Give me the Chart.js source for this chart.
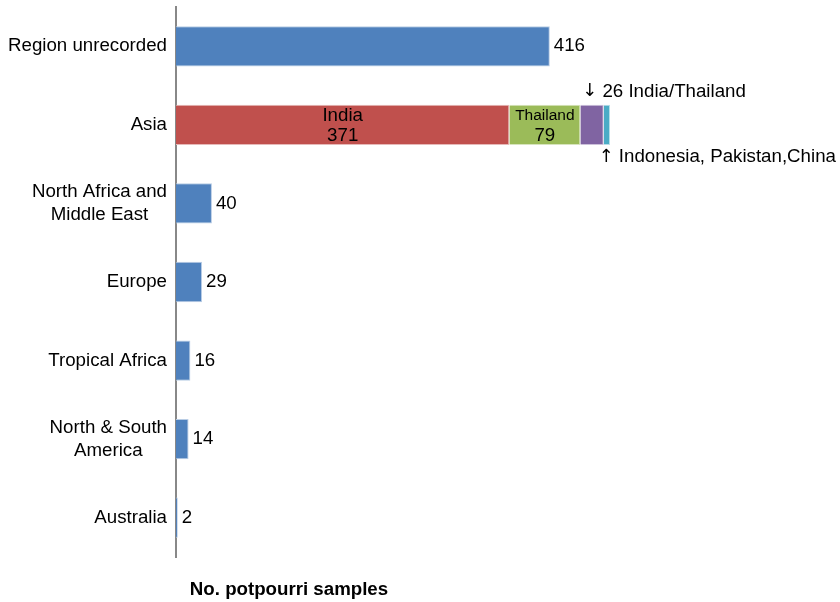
<!DOCTYPE html>
<html>
<head>
<meta charset="utf-8">
<script src="https://cdn.jsdelivr.net/npm/chart.js@4.4.1/dist/chart.umd.min.js"></script>
<style>
body { margin: 0; background: #fff; }
</style>
</head>
<body>
<canvas id="c1" width="840" height="602"></canvas>
<script>
let regions = ["Region unrecorded", "Asia", "North Africa and\nMiddle East", "Europe", "Tropical Africa", "North & South\nAmerica", "Australia"];
let totals = [416, null, 40, 29, 16, 14, 2];
let india = [null, 371, null, null, null, null, null];
let thailand = [null, 79, null, null, null, null, null];
let indiaThailand = [null, 26, null, null, null, null, null];
let otherAsia = [null, 7, null, null, null, null, null];
let xTitle = "No. potpourri samples";

let font = "'Liberation Sans', Arial, Helvetica, sans-serif";
let fs = '18.7px ';

// draws an arrow glyph in DejaVu (wider arrows), then the text after it
function arrowText(ctx, arrow, txt, x, y) {
    ctx.font = '18px "DejaVu Sans"';
    ctx.fillText(arrow, x, y);
    let w = ctx.measureText(arrow).width;
    ctx.font = fs + font;
    ctx.fillText(txt, x + w + 5, y);
}

let labelsPlugin = {
    id: 'labelsPlugin',
    afterDraw(chart) {
        let ctx = chart.ctx;
        let y = chart.scales.y;
        ctx.save();
        ctx.fillStyle = '#000';
        ctx.textBaseline = 'middle';

        // category labels: block right aligned, lines centered
        ctx.font = fs + font;
        regions.forEach((r, i) => {
            let lines = r.split('\n');
            let w = Math.max(...lines.map(l => ctx.measureText(l).width));
            let cx = 167 - w / 2;
            let cy = y.getPixelForValue(i);
            let lh = 23;
            ctx.textAlign = 'center';
            lines.forEach((l, k) => {
                ctx.fillText(l, cx, cy + (k - (lines.length - 1) / 2) * lh);
            });
        });

        // totals at bar ends
        let m0 = chart.getDatasetMeta(0);
        ctx.textAlign = 'left';
        m0.data.forEach((b, i) => {
            if (totals[i] == null) return;
            ctx.fillText(String(totals[i]), b.x + 4, b.y);
        });

        // India / Thailand inside labels
        let bi = chart.getDatasetMeta(1).data[1];
        ctx.textAlign = 'center';
        ctx.fillText('India', (bi.x + bi.base) / 2, bi.y - 9);
        ctx.fillText(String(india[1]), (bi.x + bi.base) / 2, bi.y + 11);
        let bt = chart.getDatasetMeta(2).data[1];
        ctx.font = '15.5px ' + font;
        ctx.fillText('Thailand', (bt.x + bt.base) / 2, bt.y - 9);
        ctx.font = fs + font;
        ctx.fillText(String(thailand[1]), (bt.x + bt.base) / 2, bt.y + 11);

        // callouts
        ctx.textAlign = 'left';
        let bp = chart.getDatasetMeta(3).data[1];
        arrowText(ctx, '\u2193', indiaThailand[1] + ' India/Thailand', bp.base + 2, bp.y - bp.height / 2 - 13);
        let bc = chart.getDatasetMeta(4).data[1];
        arrowText(ctx, '\u2191', 'Indonesia, Pakistan,China', bc.base - 5, bc.y + bc.height / 2 + 12);

        // axis title
        ctx.font = 'bold ' + fs + font;
        ctx.textAlign = 'center';
        ctx.fillText(xTitle, 289, 590);
        ctx.restore();
    }
};

let c1 = document.querySelector('#c1');
let opts1 = {
    type: 'bar',
    data: {
        labels: regions,
        datasets: [
            { label: 'Total', data: totals, backgroundColor: '#4F81BD', borderColor: '#B9CDE5' },
            { label: 'India', data: india, backgroundColor: '#C0504D', borderColor: '#E6B9B8' },
            { label: 'Thailand', data: thailand, backgroundColor: '#9BBB59', borderColor: '#D7E4BD' },
            { label: 'India/Thailand', data: indiaThailand, backgroundColor: '#8064A2', borderColor: '#CCC1DA' },
            { label: 'Indonesia, Pakistan, China', data: otherAsia, backgroundColor: '#4BACC6', borderColor: '#B7DEE8' },
        ],
    },
    options: {
        indexAxis: 'y',
        responsive: false,
        animation: false,
        layout: { padding: { left: 0, right: 35, top: 7, bottom: 45 } },
        datasets: {
            bar: { borderWidth: 1, categoryPercentage: 0.57, barPercentage: 0.9 }
        },
        plugins: {
            legend: { display: false },
            tooltip: { enabled: false },
        },
        scales: {
            x: {
                stacked: true,
                display: false,
                min: 0,
                max: 700,
            },
            y: {
                stacked: true,
                grid: { display: false },
                border: { display: true, color: '#888', width: 2 },
                ticks: { display: false },
                afterFit: (s) => { s.width = 176; },
            },
        },
    },
    plugins: [labelsPlugin],
};
let chart1 = new Chart(c1, opts1);
</script>
</body>
</html>
